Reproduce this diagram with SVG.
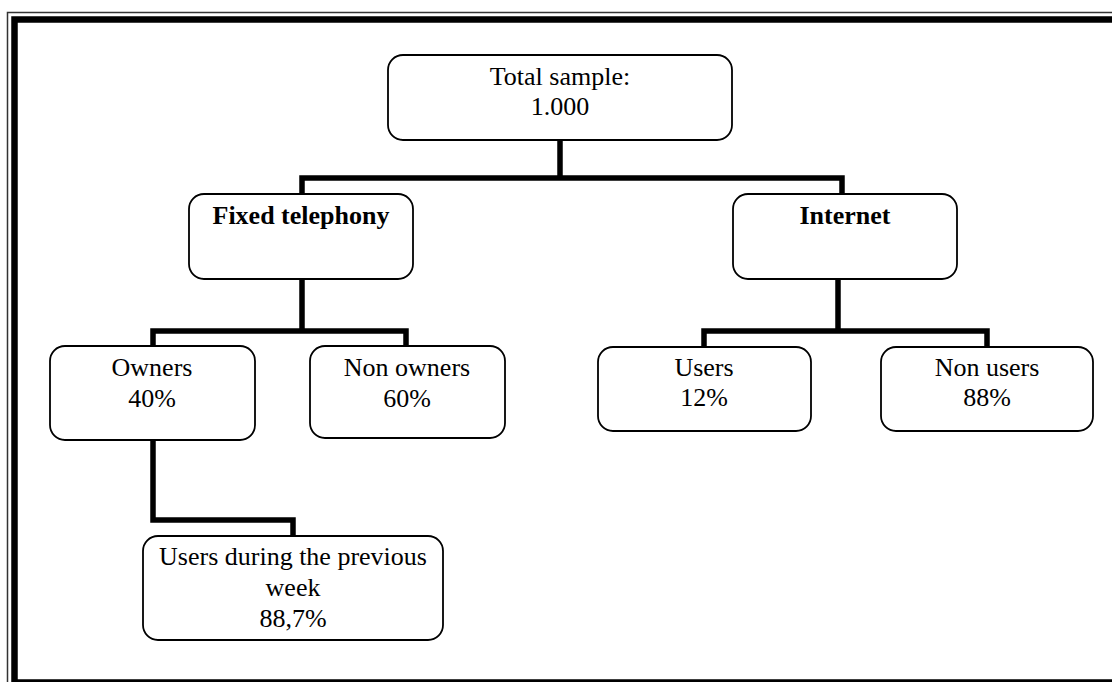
<svg xmlns="http://www.w3.org/2000/svg" width="1112" height="682" viewBox="0 0 1112 682">
<style>
.box{fill:#fff;stroke:#000;stroke-width:1.8}
.t{font-family:"Liberation Serif","Times New Roman",serif;font-size:26px;fill:#000;text-anchor:middle}
.b{font-weight:bold}
.c{fill:none;stroke:#000;stroke-width:5.5;stroke-linejoin:miter;stroke-linecap:square}
</style>
<rect x="0" y="0" width="1112" height="682" fill="#fff"/>
<g id="frame">
<rect x="7.5" y="12.5" width="1200" height="700" fill="none" stroke="#333" stroke-width="1.5"/>
<rect x="14.5" y="19.5" width="1200" height="663" fill="none" stroke="#000" stroke-width="6.5"/>
</g>
<g id="connectors">
<path class="c" d="M560 141 V178 M302 193 V178 H842 V193"/>
<path class="c" d="M302 280 V331 M153 346 V331 H406 V346"/>
<path class="c" d="M838 280 V331 M704 347 V331 H987 V347"/>
<path class="c" d="M153 441 V520 H293 V535"/>
</g>
<g id="total">
<rect class="box" x="388" y="55" width="344" height="85" rx="15"/>
<text class="t" x="560" y="85">Total sample:</text>
<text class="t" x="560" y="115">1.000</text>
</g>
<g id="fixed">
<rect class="box" x="189" y="194" width="224" height="85" rx="15"/>
<text class="t b" x="301" y="224">Fixed telephony</text>
</g>
<g id="internet">
<rect class="box" x="733" y="194" width="224" height="85" rx="15"/>
<text class="t b" x="845" y="224">Internet</text>
</g>
<g id="owners">
<rect class="box" x="50" y="346" width="205" height="94" rx="15"/>
<text class="t" x="152" y="376">Owners</text>
<text class="t" x="152" y="407">40%</text>
</g>
<g id="nonowners">
<rect class="box" x="310" y="346" width="195" height="92" rx="15"/>
<text class="t" x="407" y="376">Non owners</text>
<text class="t" x="407" y="407">60%</text>
</g>
<g id="users">
<rect class="box" x="598" y="347" width="213" height="84" rx="15"/>
<text class="t" x="704" y="376">Users</text>
<text class="t" x="704" y="406">12%</text>
</g>
<g id="nonusers">
<rect class="box" x="881" y="347" width="212" height="84" rx="15"/>
<text class="t" x="987" y="376">Non users</text>
<text class="t" x="987" y="406">88%</text>
</g>
<g id="usersweek">
<rect class="box" x="143" y="536" width="300" height="104" rx="15"/>
<text class="t" x="293" y="565">Users during the previous</text>
<text class="t" x="293" y="596">week</text>
<text class="t" x="293" y="627">88,7%</text>
</g>
</svg>
